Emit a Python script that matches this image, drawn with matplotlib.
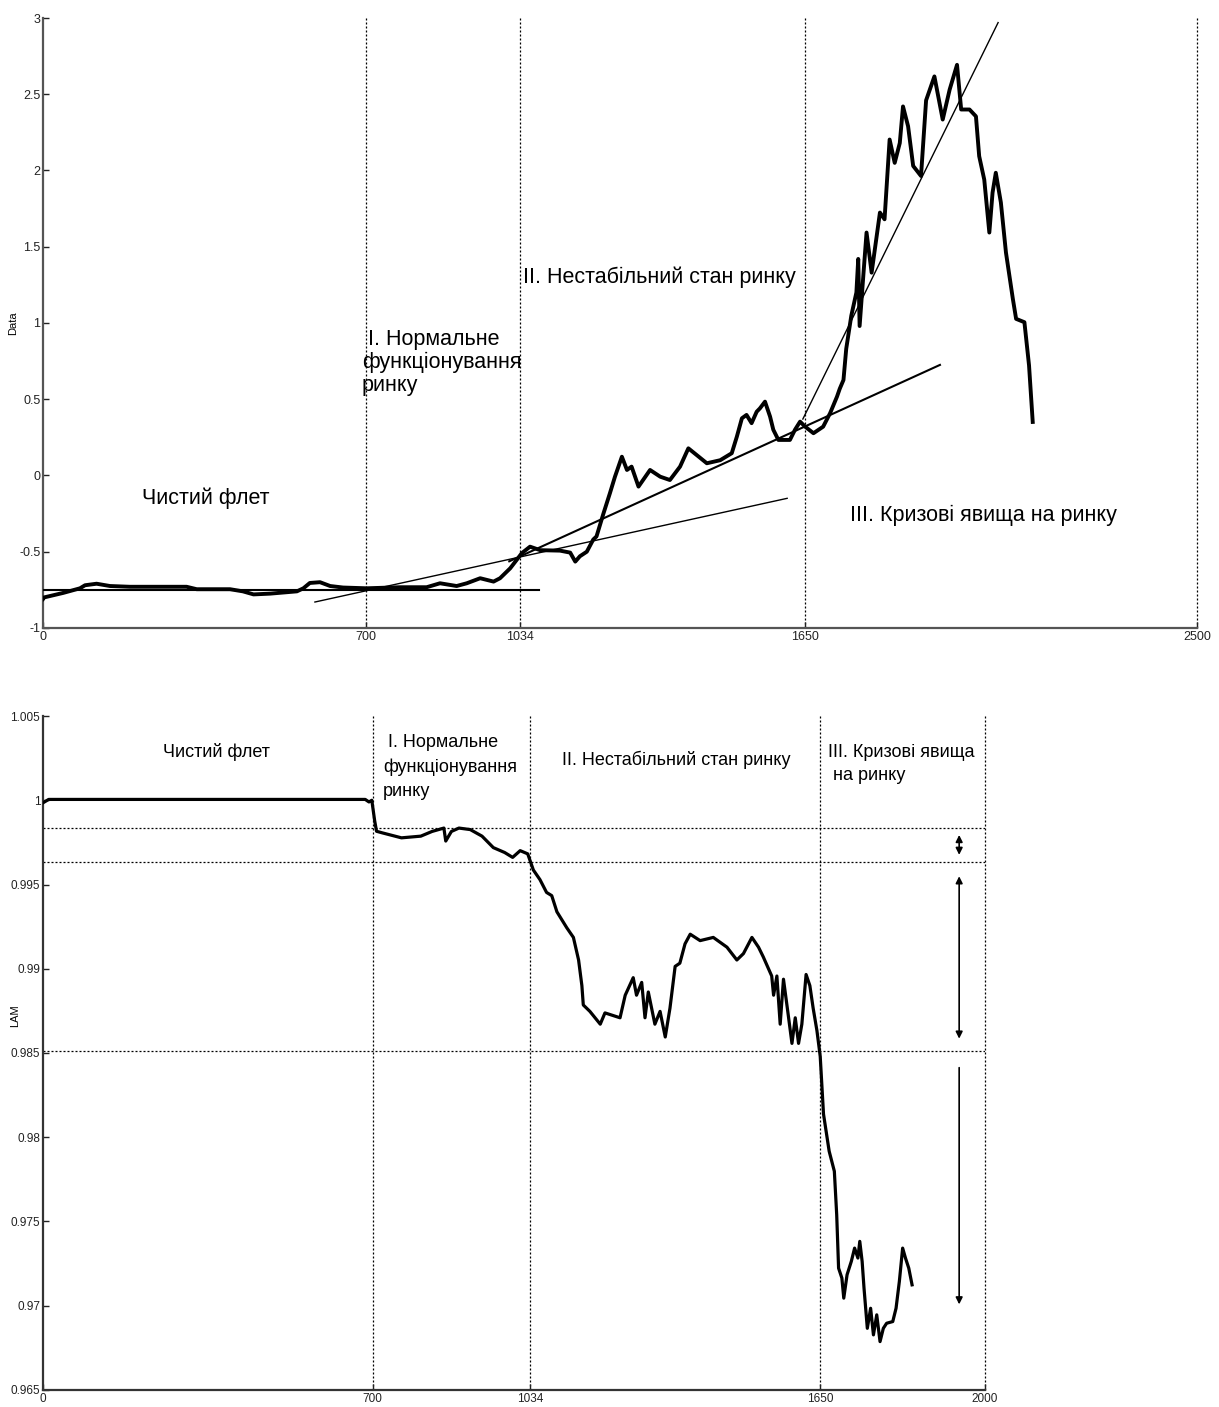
import matplotlib
matplotlib.use('Agg')
import matplotlib.pyplot as plt

plt.rcParams['font.family'] = ['Liberation Sans', 'DejaVu Sans']
narrow = ['Liberation Sans Narrow', 'Liberation Sans', 'DejaVu Sans']

# --- top panel: Data series ---
data_x = [0, 2, 44, 80, 91, 116, 145, 188, 260, 311, 333, 405, 433, 456, 492, 550, 564, 578,
          600, 622, 650, 701, 773, 831, 860, 896, 918, 947, 976, 990, 1012, 1026, 1037, 1055,
          1077, 1120, 1142, 1153, 1163, 1178, 1192, 1199, 1214, 1228, 1239, 1254, 1265, 1275,
          1290, 1315, 1337, 1358, 1380, 1398, 1416, 1438, 1467, 1492, 1503, 1514, 1524, 1535,
          1546, 1553, 1564, 1575, 1582, 1593, 1618, 1629, 1640, 1651, 1669, 1690, 1705, 1720,
          1726, 1734, 1740, 1751, 1762, 1766, 1769, 1777, 1784, 1795, 1813, 1823, 1834, 1845,
          1856, 1863, 1874, 1885, 1902, 1913, 1931, 1949, 1964, 1980, 1989, 2007, 2021, 2028,
          2039, 2050, 2057, 2064, 2075, 2086, 2101, 2108, 2126, 2136, 2144]
data_y = [-0.81, -0.80, -0.77, -0.74, -0.72, -0.71, -0.725, -0.73, -0.73, -0.73, -0.746, -0.746,
          -0.76, -0.78, -0.775, -0.76, -0.74, -0.705, -0.70, -0.725, -0.735, -0.74, -0.733,
          -0.733, -0.707, -0.725, -0.707, -0.674, -0.696, -0.674, -0.609, -0.554, -0.51, -0.467,
          -0.49, -0.493, -0.506, -0.565, -0.53, -0.50, -0.42, -0.40, -0.25, -0.117, -0.008,
          0.123, 0.036, 0.058, -0.073, 0.036, -0.008, -0.03, 0.058, 0.178, 0.134, 0.08, 0.10,
          0.146, 0.254, 0.375, 0.397, 0.343, 0.418, 0.44, 0.484, 0.386, 0.30, 0.233, 0.233,
          0.30, 0.353, 0.32, 0.277, 0.32, 0.408, 0.517, 0.569, 0.626, 0.831, 1.048, 1.20, 1.42,
          0.98, 1.31, 1.593, 1.33, 1.724, 1.68, 2.203, 2.05, 2.18, 2.42, 2.29, 2.03, 1.964,
          2.46, 2.617, 2.334, 2.53, 2.693, 2.40, 2.40, 2.355, 2.094, 1.94, 1.593, 1.855, 1.985,
          1.79, 1.462, 1.157, 1.027, 1.005, 0.722, 0.351]

# trend lines on the top panel
flat_x = [0, 1075]
flat_y = [-0.75, -0.75]
trend1_x = [589, 1612]
trend1_y = [-0.83, -0.15]
trend2_x = [1010, 1943]
trend2_y = [-0.563, 0.725]
trend3_x = [1646, 2069]
trend3_y = [0.37, 2.97]

# --- bottom panel: LAM series ---
lam_x = [0, 12, 684, 692, 698, 704, 708, 721, 761, 802, 826, 851, 855, 867, 883, 907, 932, 956,
         980, 997, 1013, 1029, 1041, 1055, 1069, 1080, 1091, 1112, 1126, 1137, 1144, 1147, 1161,
         1183, 1193, 1225, 1236, 1253, 1260, 1271, 1278, 1285, 1299, 1310, 1321, 1331, 1342,
         1352, 1363, 1374, 1395, 1423, 1452, 1473, 1487, 1505, 1519, 1529, 1547, 1551, 1558,
         1565, 1572, 1582, 1590, 1597, 1604, 1611, 1620, 1628, 1635, 1643, 1650, 1657, 1669,
         1680, 1685, 1689, 1696, 1700, 1707, 1716, 1723, 1730, 1734, 1739, 1743, 1750, 1757,
         1763, 1770, 1777, 1784, 1791, 1804, 1811, 1818, 1825, 1831, 1838, 1845]
lam_y = [0.99985, 1.00005, 1.00005, 0.9999, 1.0, 0.9988, 0.99816, 0.99806, 0.99777, 0.99787,
         0.99815, 0.99835, 0.99758, 0.99815, 0.99835, 0.99826, 0.99787, 0.99719, 0.9969,
         0.99661, 0.99701, 0.99682, 0.99586, 0.99529, 0.99453, 0.99434, 0.99338, 0.99243,
         0.99186, 0.99052, 0.98900, 0.98785, 0.98747, 0.98671, 0.98738, 0.98709, 0.98843,
         0.98947, 0.98843, 0.98919, 0.98709, 0.98862, 0.98671, 0.98747, 0.98595, 0.98766,
         0.99014, 0.99033, 0.99148, 0.99205, 0.99167, 0.99186, 0.99128, 0.99052, 0.99090,
         0.99186, 0.99128, 0.99071, 0.98957, 0.98843, 0.98957, 0.98671, 0.98938, 0.98728,
         0.98557, 0.98709, 0.98557, 0.98671, 0.98966, 0.98900, 0.98766, 0.98633, 0.98480,
         0.98137, 0.97917, 0.97798, 0.9754, 0.97223, 0.97164, 0.97045, 0.97184, 0.97263,
         0.97342, 0.97283, 0.97382, 0.97263, 0.97104, 0.96866, 0.96985, 0.96827, 0.96946,
         0.96787, 0.96866, 0.96896, 0.96906, 0.96985, 0.97144, 0.97342, 0.97283, 0.97223,
         0.97124]

lam_levels = [0.99835, 0.99634, 0.9851]
arrow_x = 1945
arrows_both = [(0.99794, 0.99676), (0.99549, 0.98585)]
arrow_down = (0.98413, 0.97008)

top_bounds = [700, 1034, 1650, 2500]
bot_bounds = [700, 1034, 1650, 2000]
top_yticks = [-1, -0.5, 0, 0.5, 1, 1.5, 2, 2.5, 3]
top_ylabels = ['-1', '-0.5', '0', '0.5', '1', '1.5', '2', '2.5', '3']
bot_yticks = [0.965, 0.97, 0.975, 0.98, 0.985, 0.99, 0.995, 1.0, 1.005]
bot_ylabels = ['0.965', '0.97', '0.975', '0.98', '0.985', '0.99', '0.995', '1', '1.005']

dot = (0, (1.6, 1.6))

fig = plt.figure(figsize=(12.19, 14.07), dpi=100)

# ---------------- top panel ----------------
ax = fig.add_axes([0.0353, 0.5537, 0.9467, 0.4335])
for b in top_bounds:
	ax.axvline(b, color='k', ls=dot, lw=0.9, zorder=1, clip_on=False)
ax.plot(data_x, data_y, color='k', lw=2.8, zorder=3)
ax.plot(flat_x, flat_y, color='k', lw=1.5, zorder=4)
ax.plot(trend1_x, trend1_y, color='k', lw=1.0, zorder=4)
ax.plot(trend2_x, trend2_y, color='k', lw=1.5, zorder=4)
ax.plot(trend3_x, trend3_y, color='k', lw=1.0, zorder=4)
ax.set_xlim(0, 2500)
ax.set_ylim(-1, 3)
ax.set_xticks([0] + top_bounds)
ax.set_yticks(top_yticks)
ax.set_yticklabels(top_ylabels)
ax.tick_params(direction='in', length=4, width=1, labelsize=9, colors='#222222', pad=2)
for s in ('top', 'right'):
	ax.spines[s].set_visible(False)
for s in ('left', 'bottom'):
	ax.spines[s].set_color('#555555')
	ax.spines[s].set_linewidth(1.6)
ax.set_ylabel('Data', fontsize=8)
ax.yaxis.set_label_coords(-0.022, 0.5)

ts = 15.5
ax.text(353, -0.148, 'Чистий флет', fontsize=ts, ha='center', va='center')
ax.text(691, 0.738, ' I. Нормальне\nфункціонування\nринку', fontsize=ts, ha='left', va='center',
	linespacing=1.12)
ax.text(1040, 1.302, 'II. Нестабільний стан ринку', fontsize=ts, ha='left', va='center')
ax.text(1748, -0.259, 'III. Кризові явища на ринку', fontsize=ts, ha='left', va='center')

# ---------------- bottom panel ----------------
ax2 = fig.add_axes([0.0353, 0.0121, 0.7728, 0.479])
for b in bot_bounds:
	ax2.axvline(b, color='k', ls=dot, lw=0.9, zorder=1, clip_on=False)
for lv in lam_levels:
	ax2.axhline(lv, color='k', ls=dot, lw=0.9, zorder=1)
ax2.plot(lam_x, lam_y, color='k', lw=2.3, zorder=3)
for y0, y1 in arrows_both:
	ax2.annotate('', xy=(arrow_x, y1), xytext=(arrow_x, y0),
		arrowprops=dict(arrowstyle='<|-|>', lw=1.2, color='k', mutation_scale=10,
		shrinkA=0, shrinkB=0))
ax2.annotate('', xy=(arrow_x, arrow_down[1]), xytext=(arrow_x, arrow_down[0]),
	arrowprops=dict(arrowstyle='-|>', lw=1.2, color='k', mutation_scale=10, shrinkA=0, shrinkB=0))
ax2.set_xlim(0, 2000)
ax2.set_ylim(0.965, 1.005)
ax2.set_xticks([0] + bot_bounds)
ax2.set_yticks(bot_yticks)
ax2.set_yticklabels(bot_ylabels)
ax2.tick_params(direction='in', length=4, width=1, labelsize=8.5, colors='#222222', pad=2)
for lbl in ax2.get_xticklabels() + ax2.get_yticklabels():
	lbl.set_family(narrow)
for s in ('top', 'right'):
	ax2.spines[s].set_visible(False)
for s in ('left', 'bottom'):
	ax2.spines[s].set_color('#333333')
	ax2.spines[s].set_linewidth(1.6)
ax2.set_ylabel('LAM', fontsize=8, family=narrow)
ax2.yaxis.set_label_coords(-0.024, 0.556)

bs = 13
ax2.text(369, 1.00286, 'Чистий флет', fontsize=bs, ha='center', va='center', family=narrow)
ax2.text(722, 1.00197, ' I. Нормальне\nфункціонування\nринку', fontsize=bs, ha='left',
	va='center', linespacing=1.55, family=narrow)
ax2.text(1102, 1.00239, 'II. Нестабільний стан ринку', fontsize=bs, ha='left', va='center',
	family=narrow)
ax2.text(1667, 1.00215, 'III. Кризові явища\n на ринку', fontsize=bs, ha='left', va='center',
	linespacing=1.45, family=narrow)

fig.savefig('out.png', dpi=100, facecolor='white')
